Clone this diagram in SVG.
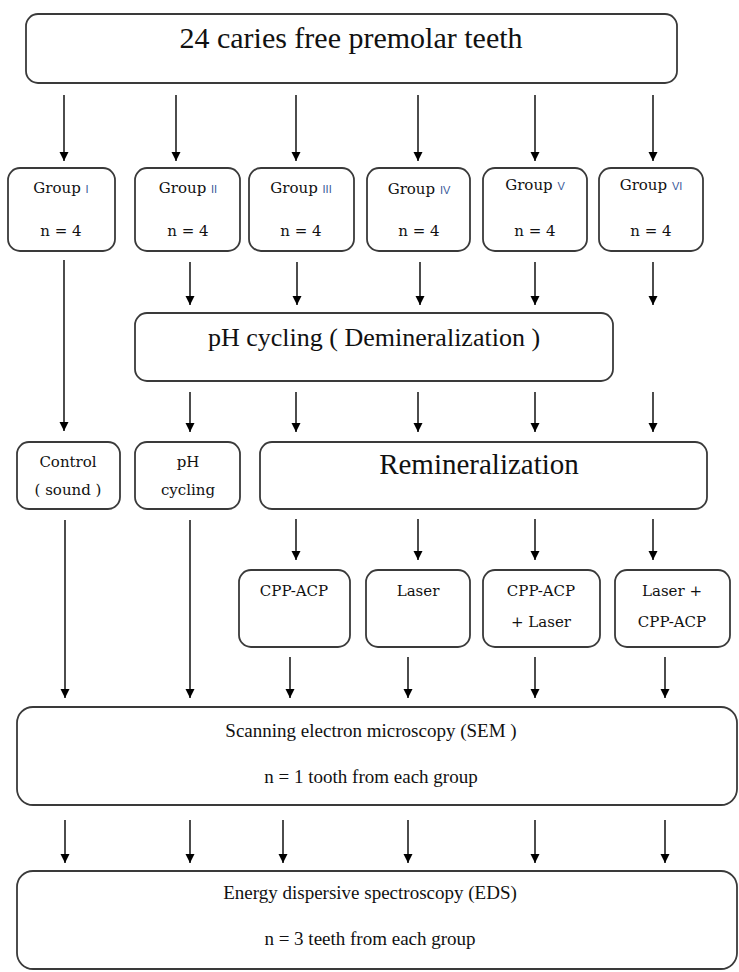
<svg xmlns="http://www.w3.org/2000/svg" width="739" height="972" viewBox="0 0 739 972">
<defs>
<marker id="ah" markerWidth="9" markerHeight="11" refX="9" refY="4.5" orient="auto" markerUnits="userSpaceOnUse">
<path d="M0,0 L9,4.5 L0,9 Z" fill="#000"/>
</marker>
</defs>
<style>
.box{fill:#fff;stroke:#3a3a3a;stroke-width:1.8}
.t{font-family:"Liberation Serif","Times New Roman",serif;fill:#111;text-anchor:middle}
.s{font-family:"DejaVu Serif",Georgia,serif;fill:#111;text-anchor:middle;font-size:15px}
.rn{font-family:"Liberation Sans",Arial,sans-serif;font-size:11px;fill:#3a5a9a}
.c{stroke:#000;stroke-width:1.4;fill:none;marker-end:url(#ah)}
</style>
<rect width="739" height="972" fill="#fff"/>

<g id="connectors">
<line class="c" x1="64" y1="95" x2="64" y2="161"/>
<line class="c" x1="176" y1="95" x2="176" y2="161"/>
<line class="c" x1="296" y1="95" x2="296" y2="161"/>
<line class="c" x1="418" y1="95" x2="418" y2="161"/>
<line class="c" x1="535" y1="95" x2="535" y2="161"/>
<line class="c" x1="653" y1="95" x2="653" y2="161"/>

<line class="c" x1="64" y1="260" x2="64" y2="431"/>
<line class="c" x1="190" y1="262" x2="190" y2="305"/>
<line class="c" x1="297" y1="262" x2="297" y2="305"/>
<line class="c" x1="420" y1="262" x2="420" y2="305"/>
<line class="c" x1="535" y1="262" x2="535" y2="305"/>
<line class="c" x1="653" y1="262" x2="653" y2="305"/>

<line class="c" x1="190" y1="392" x2="190" y2="432"/>
<line class="c" x1="296" y1="392" x2="296" y2="432"/>
<line class="c" x1="418" y1="392" x2="418" y2="432"/>
<line class="c" x1="535" y1="392" x2="535" y2="432"/>
<line class="c" x1="653" y1="392" x2="653" y2="432"/>

<line class="c" x1="296" y1="519" x2="296" y2="560"/>
<line class="c" x1="418" y1="519" x2="418" y2="560"/>
<line class="c" x1="535" y1="519" x2="535" y2="560"/>
<line class="c" x1="653" y1="519" x2="653" y2="560"/>

<line class="c" x1="65" y1="520" x2="65" y2="698"/>
<line class="c" x1="190" y1="520" x2="190" y2="698"/>
<line class="c" x1="290" y1="657" x2="290" y2="698"/>
<line class="c" x1="408" y1="657" x2="408" y2="698"/>
<line class="c" x1="535" y1="657" x2="535" y2="698"/>
<line class="c" x1="665" y1="657" x2="665" y2="698"/>

<line class="c" x1="65" y1="820" x2="65" y2="863"/>
<line class="c" x1="190" y1="820" x2="190" y2="863"/>
<line class="c" x1="283" y1="820" x2="283" y2="863"/>
<line class="c" x1="408" y1="820" x2="408" y2="863"/>
<line class="c" x1="535" y1="820" x2="535" y2="863"/>
<line class="c" x1="665" y1="820" x2="665" y2="863"/>
</g>

<g id="top">
<rect class="box" x="26" y="14" width="651" height="69" rx="12"/>
<text class="t" x="351" y="48" font-size="30">24 caries free premolar teeth</text>
</g>

<g id="g1">
<rect class="box" x="8" y="168" width="107" height="83" rx="12"/>
<text class="s" x="61" y="193">Group <tspan class="rn">I</tspan></text>
<text class="s" x="61" y="236" font-size="16">n = 4</text>
</g>
<g id="g2">
<rect class="box" x="135" y="168" width="105" height="83" rx="12"/>
<text class="s" x="188" y="193">Group <tspan class="rn">II</tspan></text>
<text class="s" x="188" y="236" font-size="16">n = 4</text>
</g>
<g id="g3">
<rect class="box" x="249" y="168" width="105" height="83" rx="12"/>
<text class="s" x="301" y="193">Group <tspan class="rn">III</tspan></text>
<text class="s" x="301" y="236" font-size="16">n = 4</text>
</g>
<g id="g4">
<rect class="box" x="367" y="168" width="103" height="83" rx="12"/>
<text class="s" x="419" y="194">Group <tspan class="rn">IV</tspan></text>
<text class="s" x="419" y="236" font-size="16">n = 4</text>
</g>
<g id="g5">
<rect class="box" x="483" y="168" width="104" height="83" rx="12"/>
<text class="s" x="535" y="190">Group <tspan class="rn">V</tspan></text>
<text class="s" x="535" y="236" font-size="16">n = 4</text>
</g>
<g id="g6">
<rect class="box" x="599" y="168" width="104" height="83" rx="12"/>
<text class="s" x="651" y="190">Group <tspan class="rn">VI</tspan></text>
<text class="s" x="651" y="236" font-size="16">n = 4</text>
</g>

<g id="ph">
<rect class="box" x="135" y="313" width="478" height="68" rx="12"/>
<text class="t" x="374" y="346" font-size="26">pH cycling ( Demineralization )</text>
</g>

<g id="control">
<rect class="box" x="17" y="442" width="103" height="67" rx="12"/>
<text class="s" x="68" y="467" font-size="16">Control</text>
<text class="s" x="68" y="495" font-size="16">( sound )</text>
</g>
<g id="phc">
<rect class="box" x="135" y="442" width="105" height="67" rx="12"/>
<text class="s" x="188" y="467" font-size="16">pH</text>
<text class="s" x="188" y="495" font-size="16">cycling</text>
</g>
<g id="remin">
<rect class="box" x="260" y="442" width="447" height="67" rx="12"/>
<text class="t" x="479" y="474" font-size="29">Remineralization</text>
</g>

<g id="cpp">
<rect class="box" x="239" y="570" width="111" height="77" rx="12"/>
<text class="s" x="294" y="596" font-size="16">CPP-ACP</text>
</g>
<g id="laser">
<rect class="box" x="366" y="570" width="104" height="77" rx="12"/>
<text class="s" x="418" y="596" font-size="16">Laser</text>
</g>
<g id="cppl">
<rect class="box" x="483" y="570" width="117" height="77" rx="12"/>
<text class="s" x="541" y="596" font-size="16">CPP-ACP</text>
<text class="s" x="541" y="627" font-size="16">+ Laser</text>
</g>
<g id="lcpp">
<rect class="box" x="615" y="570" width="115" height="77" rx="12"/>
<text class="s" x="672" y="596" font-size="16">Laser +</text>
<text class="s" x="672" y="627" font-size="16">CPP-ACP</text>
</g>

<g id="sem">
<rect class="box" x="17" y="707" width="720" height="98" rx="16"/>
<text class="t" x="371" y="737" font-size="19">Scanning electron microscopy (SEM )</text>
<text class="t" x="371" y="783" font-size="19">n = 1 tooth from each group</text>
</g>
<g id="eds">
<rect class="box" x="17" y="871" width="720" height="98" rx="16"/>
<text class="t" x="370" y="899" font-size="19">Energy dispersive spectroscopy (EDS)</text>
<text class="t" x="370" y="945" font-size="19">n = 3 teeth from each group</text>
</g>
</svg>
